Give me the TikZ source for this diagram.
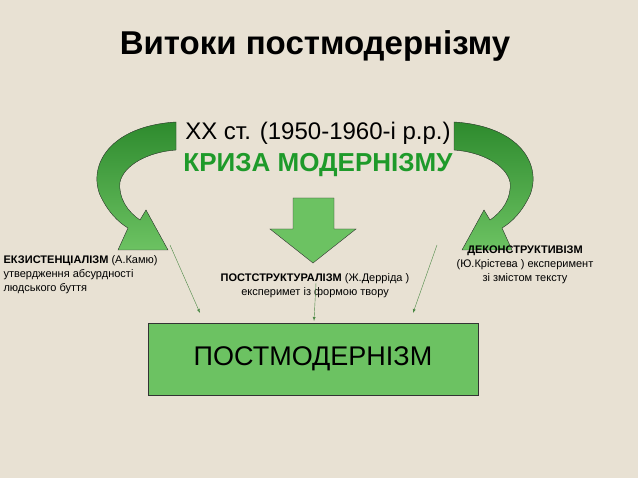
\documentclass[tikz,border=0pt]{standalone}
\usepackage{fontspec}
\setmainfont{Liberation Sans}
\usepackage{tikz}
\definecolor{bgbeige}{HTML}{E8E1D3}
\definecolor{arrowgreen}{HTML}{6CC262}
\definecolor{darkgreen}{HTML}{2E8B2E}
\definecolor{titlegreen}{HTML}{1E9A2A}
\tikzset{
  bigarrow/.style={draw=black!80, thin, fill=arrowgreen},
  thinarrow/.style={draw=arrowgreen!70!black, thin, ->, >=latex},
  lbl/.style={font=\fontsize{11}{14}\selectfont, align=center}
}
\begin{document}
\begin{tikzpicture}[x=1pt,y=-1pt]

	\fill[bgbeige] (0,0) rectangle (638,478);
	\useasboundingbox (0,0) rectangle (638,478);

	\node (title) at (315,46) {\fontsize{33}{38}\selectfont\bfseries Витоки постмодернізму};

	\node (era) at (318,133) {\fontsize{24}{28}\selectfont XX ст. (1950-1960-і р.р.)};
	\node[text=titlegreen] (crisis) at (318,165) {\fontsize{26}{30}\selectfont\bfseries КРИЗА МОДЕРНІЗМУ};

	% curved arrows
	\draw[bigarrow, top color=darkgreen, bottom color=arrowgreen]
	  (176,122) .. controls (110,126) and (88,165) .. (100,195)
	  .. controls (108,212) and (118,222) .. (128,228)
	  -- (118,250) -- (168,250) -- (146,210) -- (140,220)
	  .. controls (128,212) and (118,198) .. (120,182)
	  .. controls (124,165) and (148,152) .. (176,150) -- cycle;
	\draw[bigarrow, top color=darkgreen, bottom color=arrowgreen]
	  (454,122) .. controls (520,126) and (542,165) .. (530,195)
	  .. controls (522,212) and (512,222) .. (502,228)
	  -- (512,250) -- (462,250) -- (484,210) -- (490,220)
	  .. controls (502,212) and (512,198) .. (510,182)
	  .. controls (506,165) and (482,152) .. (454,150) -- cycle;

	% down arrow
	\draw[bigarrow] (293,198) -- (334,198) -- (334,229) -- (356,229) -- (313,263)
	  -- (270,229) -- (293,229) -- cycle;

	\node[lbl, align=left, anchor=north west] (exist) at (0,252)
	  {\textbf{ЕКЗИСТЕНЦІАЛІЗМ} (А.Камю)\\утвердження абсурдності\\людського буття};
	\node[lbl] (poststr) at (315,286)
	  {\textbf{ПОСТСТРУКТУРАЛІЗМ} (Ж.Дерріда )\\експеримет із формою твору};
	\node[lbl] (decon) at (525,265)
	  {\textbf{ДЕКОНСТРУКТИВІЗМ}\\(Ю.Крістева ) експеримент\\зі змістом тексту};

	\node[draw=black!80, fill=arrowgreen, minimum width=330pt, minimum height=72pt,
	  font=\fontsize{27}{31}\selectfont] (post) at (313,359) {ПОСТМОДЕРНІЗМ};

	\coordinate (a1) at (170,245);
	\coordinate (a2) at (316,283);
	\coordinate (a3) at (437,245);
	\draw[thinarrow] (a1) -- (200,313);
	\draw[thinarrow] (a2) -- (314,321);
	\draw[thinarrow] (a3) -- (413,313);

\end{tikzpicture}
\end{document}
